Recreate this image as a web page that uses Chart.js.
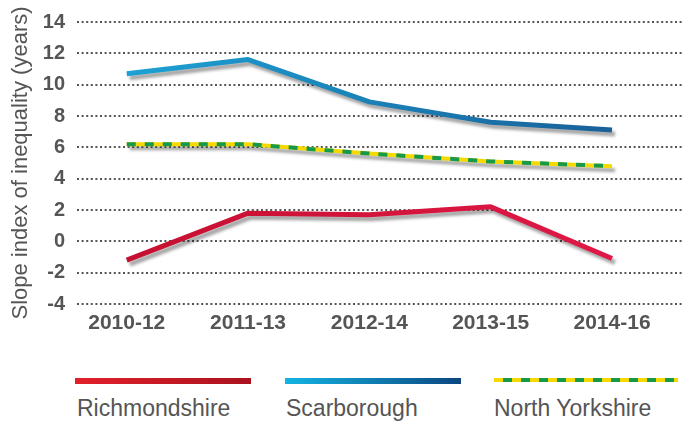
<!DOCTYPE html>
<html>
<head>
<meta charset="utf-8">
<script src="https://cdn.jsdelivr.net/npm/chart.js@4"></script>
<style>
  html, body { margin: 0; padding: 0; background: #fff; }
  #wrap { position: relative; width: 686px; height: 423px; font-family: "Liberation Sans", Arial, sans-serif; }
  #box { position: absolute; left: 0; top: 0; width: 686px; height: 342px; }
  .sw { position: absolute; top: 378px; height: 6px; }
  .sw::after { content: ''; position: absolute; left: 4px; right: -4px; top: 5px; height: 5px; background: #b3b3b3; z-index: -1; }
  .lbl { position: absolute; top: 397px; font-size: 23px; line-height: 23px; color: #555; }
</style>
</head>
<body>
<div id="wrap">
  <div id="box"><canvas id="chart"></canvas></div>
  <div class="sw" style="left:75px;width:176px;background:linear-gradient(90deg,#e3202b,#a9121d)"></div>
  <div class="sw" style="left:285px;width:176px;background:linear-gradient(90deg,#13b4e3,#0c4680)"></div>
  <div class="sw" style="left:494px;width:184px;height:4px;top:378px;background:repeating-linear-gradient(90deg,#f6d900 0 9px,#17994a 9px 18px)"></div>
  <div class="lbl" style="left:77px">Richmondshire</div>
  <div class="lbl" style="left:286px">Scarborough</div>
  <div class="lbl" style="left:494px">North Yorkshire</div>
</div>
<script>
const periods = ['2010-12', '2011-13', '2012-14', '2013-15', '2014-16'];
const richmondshire = [-1.2, 1.8, 1.7, 2.2, -1.1];
const scarborough = [10.7, 11.6, 8.9, 7.6, 7.1];
const northYorkshire = [6.2, 6.2, 5.6, 5.1, 4.8];
const yTicks = [-4, -2, 0, 2, 4, 6, 8, 10, 12, 14];

const pts = arr => arr.map((v, i) => ({ x: i, y: v }));

function gradient(ctx, from, to) {
  const area = ctx.chart.chartArea;
  if (!area) return from;
  const g = ctx.chart.ctx.createLinearGradient(area.left, 0, area.right, 0);
  g.addColorStop(0, from);
  g.addColorStop(1, to);
  return g;
}

// grey drop shadow under each line, except the green dashes on top of the yellow
const shadowPlugin = {
  id: 'shadow',
  beforeDatasetDraw(chart, args) {
    const c = chart.ctx;
    c.save();
    if (args.index === 2) return;
    c.shadowColor = 'rgba(0,0,0,0.35)';
    c.shadowOffsetX = 3;
    c.shadowOffsetY = 4;
    c.shadowBlur = 3;
  },
  afterDatasetDraw(chart) {
    chart.ctx.restore();
  },
};

const family = '"Liberation Sans", Arial, sans-serif';

new Chart(document.getElementById('chart'), {
  type: 'line',
  data: {
    datasets: [
      {
        label: 'Richmondshire',
        data: pts(richmondshire),
        borderColor: ctx => gradient(ctx, '#c30f2e', '#e4194a'),
        borderWidth: 5,
      },
      {
        label: 'Scarborough',
        data: pts(scarborough),
        borderColor: ctx => gradient(ctx, '#1ea8da', '#175790'),
        borderWidth: 5,
      },
      {
        label: 'North Yorkshire dash',
        data: pts(northYorkshire),
        borderColor: '#17994a',
        borderWidth: 4,
        borderDash: [9, 9],
      },
      {
        label: 'North Yorkshire',
        data: pts(northYorkshire),
        borderColor: '#f6d900',
        borderWidth: 4,
      },
    ],
  },
  options: {
    animation: false,
    responsive: true,
    maintainAspectRatio: false,
    elements: { point: { radius: 0 }, line: { tension: 0, borderCapStyle: 'butt', borderJoinStyle: 'round' } },
    layout: { padding: { top: 8, right: 3, left: 0, bottom: 0 } },
    plugins: { legend: { display: false }, tooltip: { enabled: false } },
    scales: {
      x: {
        type: 'linear',
        min: -0.41,
        max: 4.585,
        afterBuildTicks: scale => { scale.ticks = periods.map((p, i) => ({ value: i })); },
        ticks: {
          callback: v => periods[v],
          color: '#555',
          font: { family, size: 21, weight: 'bold' },
          padding: 7,
          maxRotation: 0,
        },
        grid: { display: false, drawTicks: false },
        border: { display: false },
        afterFit: scale => { scale.height = 38; },
      },
      y: {
        min: -4,
        max: 14,
        afterBuildTicks: scale => { scale.ticks = yTicks.map(v => ({ value: v })); },
        ticks: { color: '#555', font: { family, size: 20, weight: 'bold', lineHeight: 1 }, padding: 12 },
        grid: { color: '#555', lineWidth: 2, drawTicks: false, borderDash: [2, 2.6] },
        border: { display: false, dash: [2, 2.6] },
        title: {
          display: true,
          text: 'Slope index of inequality (years)',
          color: '#555',
          font: { family, size: 22 },
          padding: { top: 8, bottom: 0 },
        },
        afterFit: scale => { scale.width = 77; },
      },
    },
  },
  plugins: [shadowPlugin],
});
</script>
</body>
</html>
